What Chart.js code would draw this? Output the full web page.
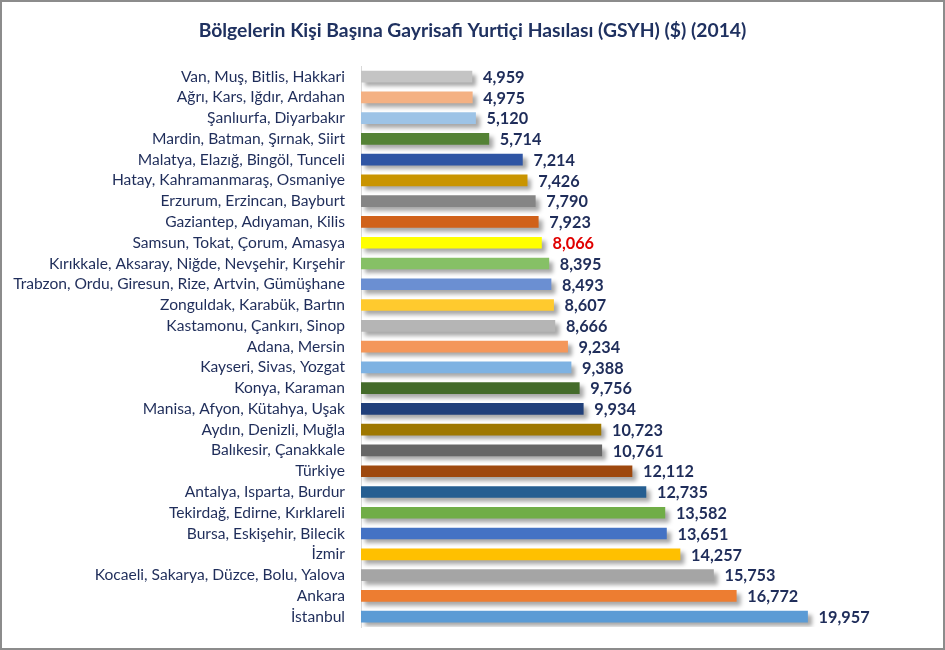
<!DOCTYPE html>
<html>
<head>
<meta charset="utf-8">
<script src="https://cdn.jsdelivr.net/npm/chart.js@4/dist/chart.umd.min.js"></script>
<style>
html,body{margin:0;padding:0;background:#fff;}
#wrap{width:945px;height:650px;position:relative;}
</style>
</head>
<body>
<div id="wrap"><canvas id="c" width="945" height="650"></canvas></div>
<script>
const categories = [
  "Van, Muş, Bitlis, Hakkari",
  "Ağrı, Kars, Iğdır, Ardahan",
  "Şanlıurfa, Diyarbakır",
  "Mardin, Batman, Şırnak, Siirt",
  "Malatya, Elazığ, Bingöl, Tunceli",
  "Hatay, Kahramanmaraş, Osmaniye",
  "Erzurum, Erzincan, Bayburt",
  "Gaziantep, Adıyaman, Kilis",
  "Samsun, Tokat, Çorum, Amasya",
  "Kırıkkale, Aksaray, Niğde, Nevşehir, Kırşehir",
  "Trabzon, Ordu, Giresun, Rize, Artvin, Gümüşhane",
  "Zonguldak, Karabük, Bartın",
  "Kastamonu, Çankırı, Sinop",
  "Adana, Mersin",
  "Kayseri, Sivas, Yozgat",
  "Konya, Karaman",
  "Manisa, Afyon, Kütahya, Uşak",
  "Aydın, Denizli, Muğla",
  "Balıkesir, Çanakkale",
  "Türkiye",
  "Antalya, Isparta, Burdur",
  "Tekirdağ, Edirne, Kırklareli",
  "Bursa, Eskişehir, Bilecik",
  "İzmir",
  "Kocaeli, Sakarya, Düzce, Bolu, Yalova",
  "Ankara",
  "İstanbul"
];
const gsyhValues = [4959, 4975, 5120, 5714, 7214, 7426, 7790, 7923, 8066, 8395, 8493, 8607, 8666, 9234, 9388, 9756, 9934, 10723, 10761, 12112, 12735, 13582, 13651, 14257, 15753, 16772, 19957];
const barColors = [
  "#C4C4C4", "#F4B183", "#9DC3E6", "#548235", "#2F55A4", "#C99400", "#858585", "#D0611A", "#FFFF00",
  "#86C066", "#6B8FD2", "#FFCA2E", "#B5B5B5", "#F4975A", "#7EB2E2", "#446B2A", "#203F7A", "#9E7700",
  "#666666", "#9E480E", "#255E91", "#70AD47", "#4472C4", "#FFC000", "#A5A5A5", "#ED7D31", "#5B9BD5"
];
const valueLabelColors = categories.map((c, i) => i === 8 ? "#E00000" : "#1F2D5A");

const shadowPlugin = {
  id: 'barShadow',
  beforeDatasetDraw(chart) {
    const ctx = chart.ctx;
    ctx.save();
    ctx.shadowColor = 'rgba(0,0,0,0.35)';
    ctx.shadowBlur = 4;
    ctx.shadowOffsetX = 4;
    ctx.shadowOffsetY = 4;
  },
  afterDatasetDraw(chart) {
    chart.ctx.restore();
  }
};

const valueLabelPlugin = {
  id: 'valueLabels',
  afterDatasetsDraw(chart) {
    const ctx = chart.ctx;
    const meta = chart.getDatasetMeta(0);
    ctx.save();
    ctx.font = 'bold 16.3px Lato';
    ctx.textAlign = 'left';
    ctx.textBaseline = 'middle';
    meta.data.forEach((bar, i) => {
      ctx.fillStyle = valueLabelColors[i];
      ctx.fillText(gsyhValues[i].toLocaleString('en-US'), bar.x + 11, bar.y + 1);
    });
    ctx.restore();
  }
};

const borderPlugin = {
  id: 'outerBorder',
  afterDraw(chart) {
    const ctx = chart.ctx;
    ctx.save();
    ctx.strokeStyle = '#8C8C8C';
    ctx.lineWidth = 2;
    ctx.strokeRect(1, 1, chart.width - 2, chart.height - 2);
    ctx.restore();
  }
};

new Chart(document.getElementById('c'), {
  type: 'bar',
  data: {
    labels: categories,
    datasets: [{
      data: gsyhValues,
      backgroundColor: barColors,
      borderWidth: 0,
      barThickness: 11
    }]
  },
  options: {
    indexAxis: 'y',
    responsive: false,
    animation: false,
    devicePixelRatio: 1,
    layout: { padding: { top: 19, bottom: 23, left: 0, right: 0 } },
    plugins: {
      legend: { display: false },
      tooltip: { enabled: false },
      title: {
        display: true,
        text: 'Bölgelerin Kişi Başına Gayrisafi Yurtiçi Hasılası (GSYH) ($) (2014)',
        color: '#1F3160',
        font: { family: 'Lato', size: 19.3, weight: 'bold' },
        padding: { top: 0, bottom: 24 }
      }
    },
    scales: {
      x: {
        display: false,
        min: 0,
        max: 26100
      },
      y: {
        afterFit(scale) { scale.width = 361; },
        grid: { display: false },
        border: { display: true, color: '#D9D9D9', width: 1 },
        ticks: {
          color: '#1F2D5A',
          font: { family: 'Lato', size: 15.6 },
          padding: 8,
          autoSkip: false
        }
      }
    }
  },
  plugins: [shadowPlugin, valueLabelPlugin, borderPlugin]
});
</script>
</body>
</html>
